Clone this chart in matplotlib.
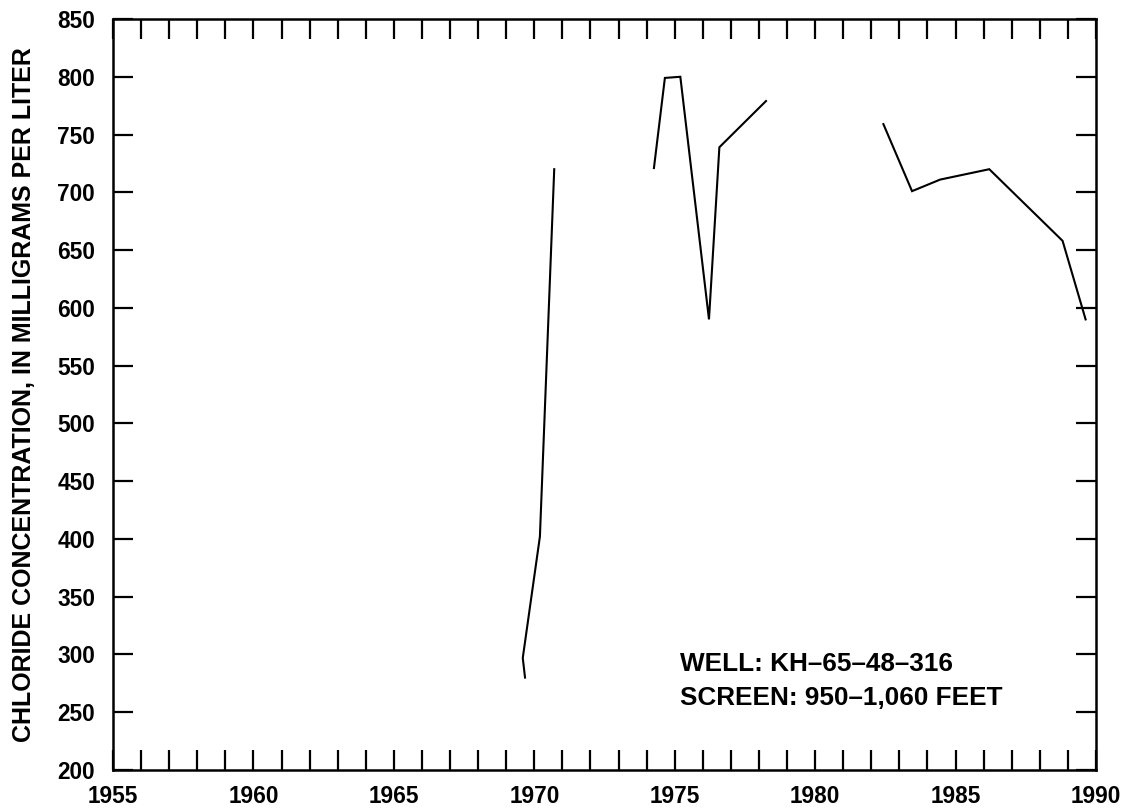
import matplotlib
matplotlib.use("Agg")
import matplotlib.pyplot as plt
import numpy as np

# Data (year, chloride mg/L), three record segments
seg1_years = [1969.67, 1969.59, 1970.20, 1970.71]
seg1_values = [280, 297, 402, 720]

seg2_years = [1974.26, 1974.65, 1975.20, 1976.22, 1976.59, 1978.25]
seg2_values = [721, 799, 800, 590, 739, 779]

seg3_years = [1982.43, 1983.45, 1984.45, 1986.20, 1988.81, 1989.63]
seg3_values = [759, 701, 711, 720, 658, 590]

x_tick_labels = ["1955", "1960", "1965", "1970", "1975", "1980", "1985", "1990"]
y_ticks = list(range(200, 851, 50))

ylabel = "CHLORIDE CONCENTRATION, IN MILLIGRAMS PER LITER"
note_lines = ["WELL: KH\u201365\u201348\u2013316", "SCREEN: 950\u20131,060 FEET"]

plt.rcParams['font.family'] = ['Liberation Sans', 'DejaVu Sans']

fig = plt.figure(figsize=(11.23, 8.11), dpi=100)
ax = fig.add_axes([113/1123, 41/811, 983/1123, 751/811])

for xs, ys in [(seg1_years, seg1_values), (seg2_years, seg2_values), (seg3_years, seg3_values)]:
    ax.plot(xs, ys, color='black', lw=1.5, solid_joinstyle='miter')

ax.set_xlim(1955, 1990)
ax.set_ylim(200, 850)

years = np.arange(1955, 1991)
ax.set_xticks(years)
lab_map = {int(l): l for l in x_tick_labels}
ax.set_xticklabels([lab_map.get(int(y), "") for y in years])
ax.set_yticks(y_ticks)
ax.set_yticklabels([str(v) for v in y_ticks])

ax.tick_params(axis='x', which='both', direction='in', length=14.4, width=1.6,
               top=True, bottom=True, labelsize=16.3, pad=10.5)
ax.tick_params(axis='y', which='both', direction='in', length=14.4, width=1.6,
               left=True, right=True, labelsize=16.3, pad=13)
for lab in ax.get_xticklabels() + ax.get_yticklabels():
    lab.set_fontweight('bold')

for sp in ax.spines.values():
    sp.set_linewidth(1.8)

ax.set_ylabel(ylabel, fontsize=18, fontweight='bold')
ax.yaxis.set_label_coords(-0.0783, 0.5)

ax.text(0.577, 0.141, note_lines[0], transform=ax.transAxes, fontsize=18.8,
        va='center', ha='left', fontweight='bold')
ax.text(0.577, 0.096, note_lines[1], transform=ax.transAxes, fontsize=18.8,
        va='center', ha='left', fontweight='bold')

fig.savefig("out.png", dpi=100)
